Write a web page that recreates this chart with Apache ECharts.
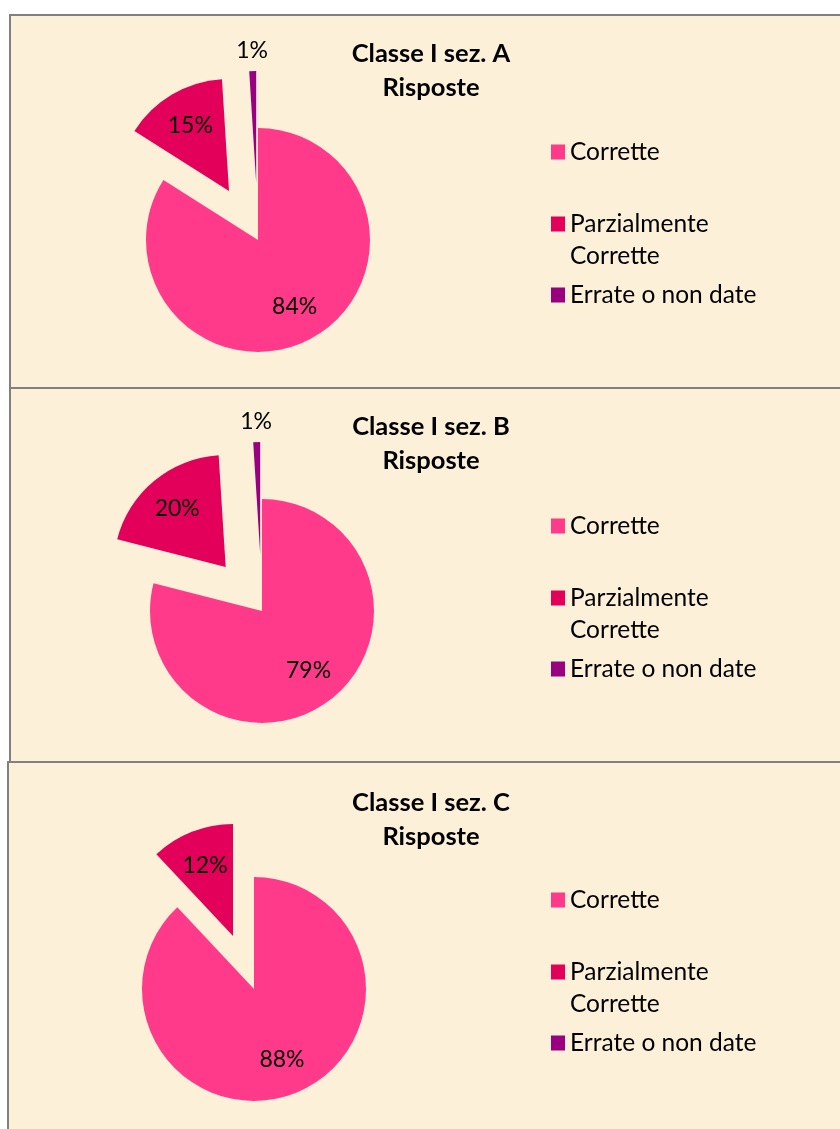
<!DOCTYPE html>
<html>
<head>
<meta charset="utf-8">
<script src="https://cdn.jsdelivr.net/npm/echarts@6/dist/echarts.min.js"></script>
<style>
  html, body { margin: 0; padding: 0; background: #ffffff; }
  #main { width: 840px; height: 1129px; }
</style>
</head>
<body>
<div id="main"></div>
<script>
// dati dei tre grafici
var categorie = ['Corrette', 'Parzialmente Corrette', 'Errate o non date'];
var colori = ['#ff3a8a', '#e2005a', '#990080'];
var titoli = ['Classe I sez. A\nRisposte', 'Classe I sez. B\nRisposte', 'Classe I sez. C\nRisposte'];
var sezA = [84, 15, 1];
var sezB = [79, 20, 1];
var sezC = [88, 12, 0];
var valori = [sezA, sezB, sezC];

// posizione dei pannelli e dei centri delle torte
var pannelli = [
  {x: 10, y: 15, h: 373, cx: 258, cy: 240},
  {x: 10, y: 388, h: 374, cx: 262, cy: 611},
  {x: 8, y: 762, h: 400, cx: 254, cy: 989}
];

var chartDom = document.getElementById('main');
var myChart = echarts.init(chartDom);

var font = 'Lato, "Open Sans", sans-serif';
var sfondo = '#fcf0d8';

function datiPie(vals, conLabel) {
  return vals.map(function (v, i) {
    var item = {
      name: categorie[i],
      value: v,
      selected: i > 0,
      itemStyle: {color: conLabel ? 'rgba(0,0,0,0)' : colori[i]}
    };
    if (conLabel) {
      item.label = {show: conLabel(i) && v > 0};
    }
    return item;
  });
}

var series = [];
var overlay = [];
var title = [];
var legend = [];
var graphic = [];

pannelli.forEach(function (p, k) {
  var dy = p.y - 15;
  graphic.push({
    type: 'rect',
    z: -10,
    shape: {x: p.x, y: p.y, width: 840, height: p.h},
    style: {fill: sfondo, stroke: '#808080', lineWidth: 2}
  });

  // torta visibile
  series.push({
    type: 'pie',
    center: [p.cx, p.cy],
    radius: 112,
    startAngle: 90,
    clockwise: true,
    selectedMode: 'multiple',
    selectedOffset: 57,
    label: {show: false},
    labelLine: {show: false},
    emphasis: {disabled: true},
    data: datiPie(valori[k])
  });
  // etichette interne (serie trasparente)
  overlay.push({
    type: 'pie',
    silent: true,
    center: [p.cx, p.cy],
    radius: 146,
    startAngle: 90,
    selectedMode: 'multiple',
    selectedOffset: 57,
    percentPrecision: 0,
    label: {
      position: 'inside',
      formatter: '{d}%',
      color: '#000',
      fontFamily: font,
      fontSize: 23
    },
    labelLine: {show: false},
    emphasis: {disabled: true},
    data: datiPie(valori[k], function (i) { return i < 2; })
  });
  // etichetta esterna della fetta piccola
  overlay.push({
    type: 'pie',
    silent: true,
    center: [p.cx, p.cy],
    radius: 260,
    startAngle: 90,
    selectedMode: 'multiple',
    selectedOffset: 57,
    percentPrecision: 0,
    label: {
      position: 'inside',
      formatter: '{d}%',
      color: '#000',
      fontFamily: font,
      fontSize: 23
    },
    labelLine: {show: false},
    emphasis: {disabled: true},
    data: datiPie(valori[k], function (i) { return i === 2; })
  });

  title.push({
    text: titoli[k],
    left: 431,
    top: 37 + dy + (k === 2 ? 2 : 0),
    textAlign: 'center',
    padding: 0,
    textStyle: {
      fontFamily: font,
      fontWeight: 'bold',
      fontSize: 25.5,
      lineHeight: 34,
      color: '#000'
    }
  });

  var testo = {fontFamily: font, fontSize: 24.5, lineHeight: 32, color: '#000'};
  var legendaBase = {
    left: 551,
    orient: 'vertical',
    padding: 0,
    icon: 'rect',
    itemWidth: 14,
    itemHeight: 15,
    selectedMode: false,
    textStyle: testo
  };
  var offs = [0, 374, 748];
  legend.push(Object.assign({}, legendaBase, {top: 136 + offs[k], data: [categorie[0]]}));
  // riga vuota in testa: l'icona resta allineata alla prima riga di testo
  legend.push(Object.assign({}, legendaBase, {
    top: 176 + offs[k],
    data: [categorie[1]],
    formatter: function () { return ' \nParzialmente\nCorrette'; }
  }));
  legend.push(Object.assign({}, legendaBase, {top: 279 + offs[k], data: [categorie[2]]}));
});

var option = {
  animation: false,
  graphic: graphic,
  title: title,
  legend: legend,
  series: series.concat(overlay)
};

myChart.setOption(option);
</script>
</body>
</html>
